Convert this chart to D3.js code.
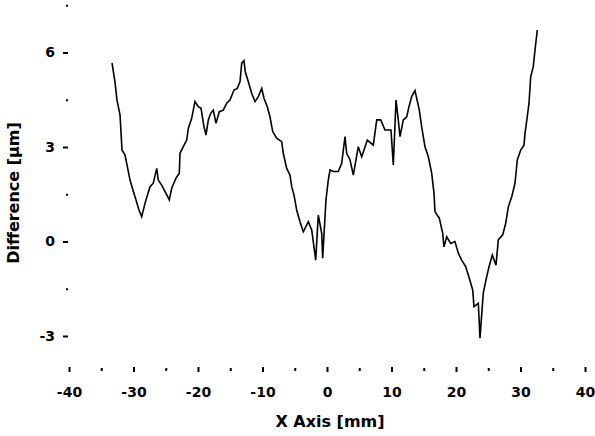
<!DOCTYPE html>
<html>
<head>
<meta charset="utf-8">
<script src="https://cdn.jsdelivr.net/npm/d3@7"></script>
<style>
  body { margin: 0; background: #fff; }
  svg { display: block; }
  .axis text { font-family: "DejaVu Sans", sans-serif; font-size: 14px; font-weight: bold; fill: #000; }
  .axis line { stroke: #000; stroke-width: 2; }
  .title { font-family: "DejaVu Sans", sans-serif; font-size: 16px; font-weight: bold; fill: #000; }
</style>
</head>
<body>
<div id="chart-area"></div>
<script>
// measured profile: position along x axis (mm) and difference (um)
let xPos = [
	-33.33, -32.87, -32.56, -32.09, -31.78, -31.32, -31.01, -30.54, -30.08, -29.61,
	-29.15, -28.73, -28.22, -27.44, -26.93, -26.40, -26.16, -25.63, -24.96, -24.45,
	-24.08, -23.41, -22.90, -22.79, -22.28, -21.75, -21.50, -20.98, -20.47, -19.95,
	-19.53, -19.07, -18.76, -18.40, -18.03, -17.63, -17.21, -16.70, -16.08, -15.55,
	-15.04, -14.42, -13.91, -13.49, -13.22, -12.87, -12.67, -12.20, -11.67, -11.16,
	-10.65, -10.12, -9.77, -9.26, -8.84, -8.42, -7.80, -7.02, -6.78, -6.25,
	-5.74, -5.47, -5.12, -4.70, -4.19, -3.67, -2.90, -2.37, -1.75, -1.35,
	-0.82, -0.67, -0.16, 0.20, 0.47, 0.98, 1.75, 2.28, 2.79, 3.05,
	3.57, 4.08, 4.85, 5.38, 6.25, 7.18, 7.71, 8.33, 8.99, 9.92,
	10.28, 10.70, 11.05, 11.32, 11.83, 12.36, 12.71, 13.13, 13.64, 14.31,
	14.68, 15.19, 15.71, 16.23, 16.59, 16.74, 17.41, 17.94, 18.14, 18.56,
	19.18, 19.84, 20.36, 20.88, 21.50, 22.06, 22.59, 22.79, 23.46, 23.72,
	23.98, 24.23, 24.65, 25.12, 25.63, 26.20, 26.56, 27.24, 27.71, 28.11,
	28.64, 29.15, 29.50, 30.03, 30.54, 30.70, 31.05, 31.32, 31.58, 31.98,
	32.25, 32.60
];

let diff = [
	5.67, 5.06, 4.49, 4.02, 2.90, 2.75, 2.43, 1.95, 1.63, 1.32,
	1.00, 0.79, 1.21, 1.74, 1.85, 2.32, 1.95, 1.79, 1.53, 1.32,
	1.69, 2.01, 2.17, 2.80, 3.01, 3.22, 3.59, 3.91, 4.44, 4.28,
	4.23, 3.64, 3.38, 3.86, 4.07, 4.17, 3.75, 4.12, 4.17, 4.39,
	4.49, 4.81, 4.86, 5.07, 5.66, 5.74, 5.39, 5.07, 4.70, 4.44,
	4.60, 4.86, 4.55, 4.28, 3.96, 3.49, 3.28, 3.17, 2.80, 2.32,
	2.11, 1.74, 1.48, 1.00, 0.63, 0.31, 0.63, 0.37, -0.59, 0.84,
	0.26, -0.53, 1.32, 1.95, 2.27, 2.22, 2.22, 2.48, 3.33, 2.80,
	2.59, 2.11, 3.01, 2.69, 3.22, 3.06, 3.86, 3.86, 3.54, 3.54,
	2.43, 4.49, 3.86, 3.33, 3.86, 3.96, 4.28, 4.60, 4.79, 4.17,
	3.64, 3.01, 2.69, 2.17, 1.53, 0.95, 0.74, 0.26, -0.17, 0.15,
	-0.06, 0.00, -0.37, -0.59, -0.80, -1.17, -1.54, -2.07, -1.96, -3.07,
	-2.33, -1.64, -1.22, -0.80, -0.43, -0.75, 0.05, 0.21, 0.58, 1.10,
	1.42, 1.85, 2.59, 2.90, 3.06, 3.43, 3.96, 4.39, 5.23, 5.55,
	6.08, 6.71
];

let xTicks = [-40, -30, -20, -10, 0, 10, 20, 30, 40];
let xMinor = [-35, -25, -15, -5, 5, 15, 25, 35];
let yTicks = [-3, 0, 3, 6];
let yMinor = [-1.5, 1.5, 4.5, 7.5];

let width = 595;
let height = 436;

let svg = d3.select("#chart-area").append("svg")
	.attr("width", width)
	.attr("height", height);

// Scales (pixel positions)
let x = d3.scaleLinear()
	.domain([-40, 40])
	.range([69, 585]);

let y = d3.scaleLinear()
	.domain([0, 6])
	.range([241.5, 52.5]);

// plain hyphen minus, no decimals
let plainNum = d => String(d);

// Y axis, no domain line
let yAxis = d3.axisLeft(y)
	.tickValues(yTicks)
	.tickSize(5)
	.tickPadding(8)
	.tickFormat(plainNum);

svg.append("g")
	.attr("class", "axis y-axis")
	.attr("transform", "translate(68,0)")
	.call(yAxis)
	.call(g => g.select(".domain").remove());

svg.append("g")
	.attr("class", "axis y-minor")
	.attr("transform", "translate(68,0)")
	.call(d3.axisLeft(y).tickValues(yMinor).tickSize(2).tickFormat(""))
	.call(g => g.select(".domain").remove());

// X axis, no domain line
let xAxis = d3.axisBottom(x)
	.tickValues(xTicks)
	.tickSize(5)
	.tickFormat(plainNum);

svg.append("g")
	.attr("class", "axis x-axis")
	.attr("transform", "translate(0,367)")
	.call(xAxis)
	.call(g => g.select(".domain").remove())
	.call(g => g.selectAll("text").attr("dy", null).attr("y", 30));

svg.append("g")
	.attr("class", "axis x-minor")
	.attr("transform", "translate(0,368)")
	.call(d3.axisBottom(x).tickValues(xMinor).tickSize(3).tickFormat(""))
	.call(g => g.select(".domain").remove());

// Profile line
let data = xPos.map((d, i) => ({x: d, y: diff[i]}));

const line = d3.line()
	.x(d => x(d.x))
	.y(d => y(d.y))
	.curve(d3.curveLinear);

svg.append("path")
	.datum(data)
	.attr("class", "line")
	.attr("d", line)
	.attr("fill", "none")
	.attr("stroke", "#000")
	.attr("stroke-width", 1.6);

// Axis titles
svg.append("text")
	.attr("class", "title")
	.attr("x", 330)
	.attr("y", 427)
	.attr("text-anchor", "middle")
	.text("X Axis [mm]");

svg.append("text")
	.attr("class", "title")
	.attr("transform", "translate(19,193) rotate(-90)")
	.attr("text-anchor", "middle")
	.text("Difference [μm]");
</script>
</body>
</html>
